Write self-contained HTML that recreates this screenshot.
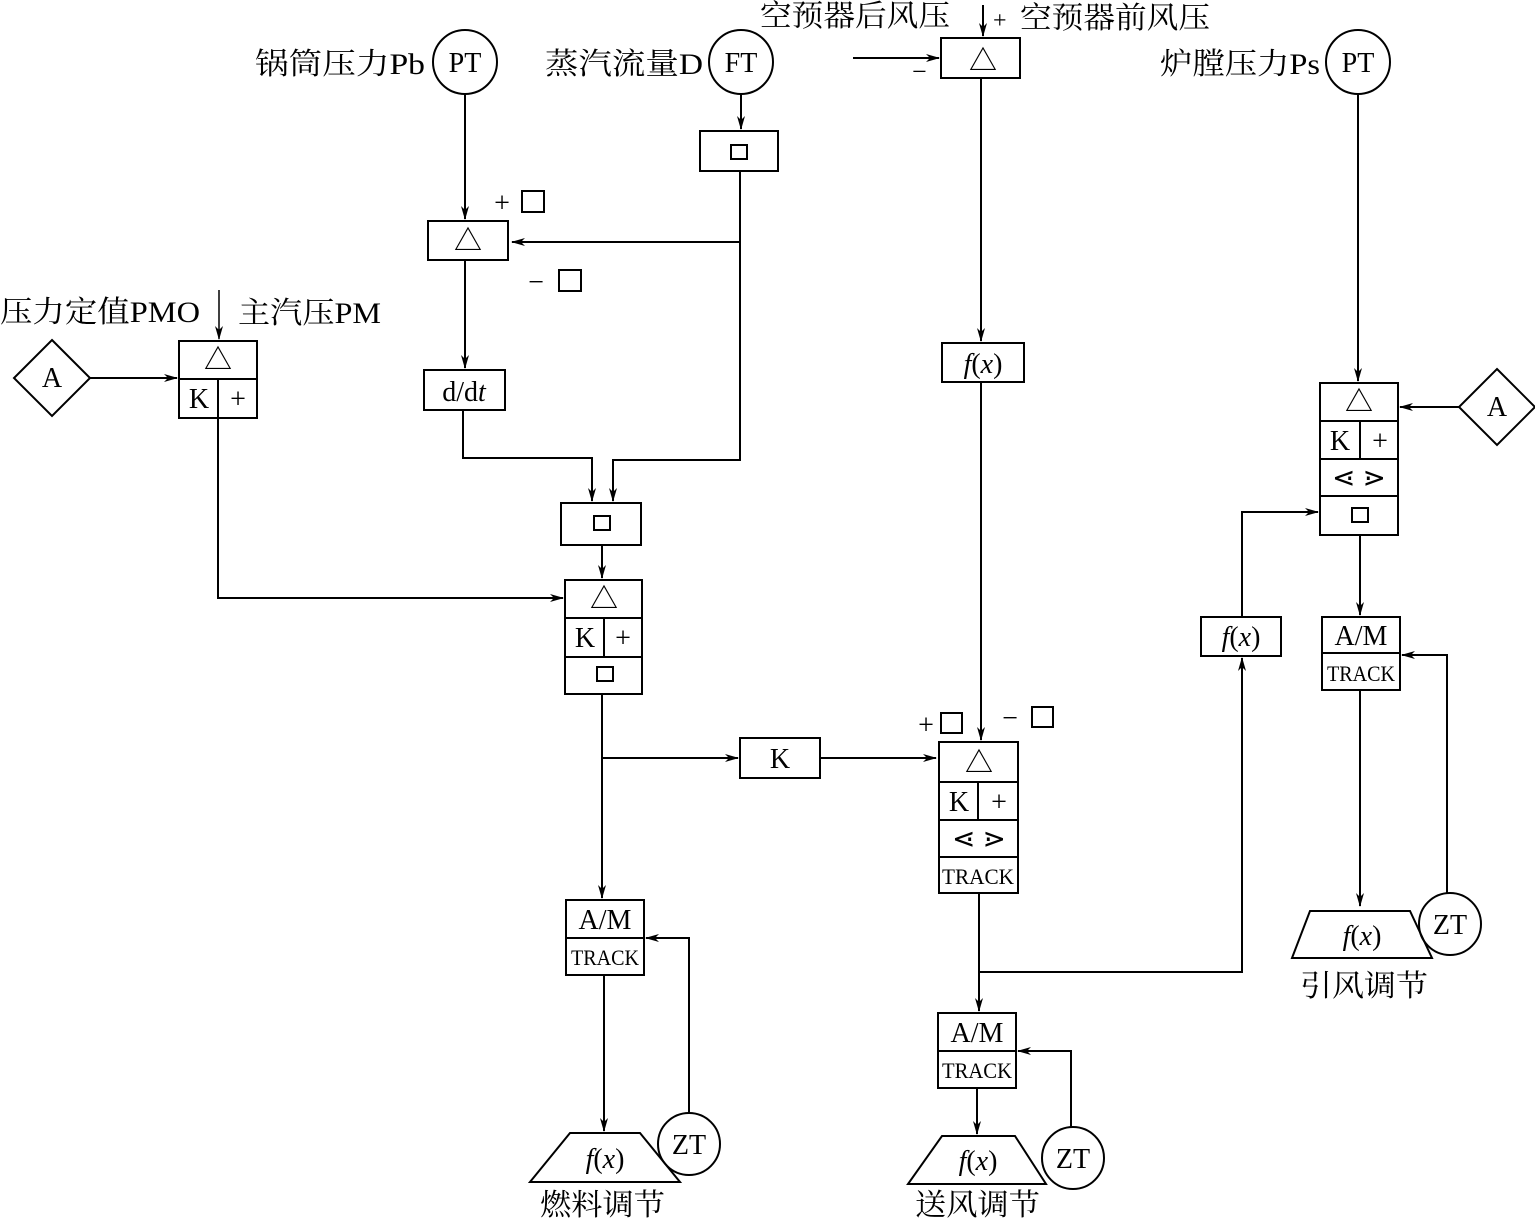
<!DOCTYPE html>
<html><head><meta charset="utf-8"><style>
html,body{margin:0;padding:0;background:#fff}
svg text{font-family:"Liberation Serif","Noto Serif CJK SC",serif;fill:#000}
</style></head><body>
<svg width="1535" height="1223" viewBox="0 0 1535 1223" xmlns="http://www.w3.org/2000/svg">
<defs><marker id="a" markerWidth="14" markerHeight="8" refX="13" refY="4" orient="auto" markerUnits="userSpaceOnUse"><path d="M0,0 L14,4 L0,8 L4,4 Z" fill="#000"/></marker></defs>
<g stroke="#000" stroke-width="2" fill="none">
<line x1="983" y1="5" x2="983" y2="36" marker-end="url(#a)"/>
<rect x="941" y="38" width="79" height="40"/>
<line x1="853" y1="58" x2="939" y2="58" marker-end="url(#a)"/>
<line x1="981" y1="78" x2="981" y2="341" marker-end="url(#a)"/>
<rect x="942" y="343" width="82" height="39"/>
<line x1="981" y1="382" x2="981" y2="740" marker-end="url(#a)"/>
<circle cx="465" cy="62" r="32"/>
<circle cx="741" cy="62" r="32"/>
<line x1="741" y1="94" x2="741" y2="129" marker-end="url(#a)"/>
<rect x="700" y="131" width="78" height="40"/>
<rect x="731" y="145" width="16" height="14"/>
<polyline points="740,171 740,460 613,460 613,501" marker-end="url(#a)"/>
<line x1="740" y1="242" x2="512" y2="242" marker-end="url(#a)"/>
<line x1="465" y1="94" x2="465" y2="219" marker-end="url(#a)"/>
<rect x="428" y="221" width="80" height="39"/>
<rect x="522" y="191" width="22" height="21"/>
<rect x="559" y="270" width="22" height="21"/>
<line x1="465" y1="260" x2="465" y2="368" marker-end="url(#a)"/>
<rect x="424" y="370" width="81" height="40"/>
<polyline points="463,410 463,458 592,458 592,501" marker-end="url(#a)"/>
<rect x="561" y="503" width="80" height="42"/>
<rect x="594" y="516" width="16" height="14"/>
<line x1="602" y1="545" x2="602" y2="578" marker-end="url(#a)"/>
<rect x="565" y="580" width="77" height="114"/>
<line x1="565" y1="618" x2="642" y2="618"/><line x1="565" y1="657" x2="642" y2="657"/><line x1="604" y1="618" x2="604" y2="657"/>
<rect x="597" y="667" width="16" height="14"/>
<line x1="219" y1="290" x2="219" y2="339" stroke-width="1.5" marker-end="url(#a)"/>
<polygon points="52,340 90,378 52,416 14,378"/>
<line x1="90" y1="378" x2="177" y2="378" marker-end="url(#a)"/>
<rect x="179" y="341" width="78" height="77"/>
<line x1="179" y1="379" x2="257" y2="379"/><line x1="218" y1="379" x2="218" y2="418"/>
<polyline points="218,418 218,598 563,598" marker-end="url(#a)"/>
<line x1="602" y1="694" x2="602" y2="898" marker-end="url(#a)"/>
<line x1="602" y1="758" x2="738" y2="758" marker-end="url(#a)"/>
<rect x="740" y="738" width="80" height="40"/>
<line x1="820" y1="758" x2="936" y2="758" marker-end="url(#a)"/>
<rect x="566" y="900" width="78" height="75"/><line x1="566" y1="938" x2="644" y2="938"/>
<line x1="604" y1="975" x2="604" y2="1131" marker-end="url(#a)"/>
<polygon points="570,1133 640,1133 680,1182 530,1182"/>
<circle cx="689" cy="1144" r="31"/>
<polyline points="689,1113 689,938 646,938" marker-end="url(#a)"/>
<rect x="939" y="742" width="79" height="151"/>
<line x1="939" y1="782" x2="1018" y2="782"/><line x1="939" y1="820" x2="1018" y2="820"/><line x1="939" y1="857" x2="1018" y2="857"/><line x1="978" y1="782" x2="978" y2="820"/>
<rect x="941" y="713" width="21" height="20"/>
<rect x="1032" y="707" width="21" height="20"/>
<line x1="979" y1="893" x2="979" y2="1011" marker-end="url(#a)"/>
<polyline points="979,972 1242,972 1242,658" marker-end="url(#a)"/>
<rect x="1201" y="617" width="80" height="39"/>
<polyline points="1242,617 1242,512 1318,512" marker-end="url(#a)"/>
<rect x="938" y="1013" width="78" height="75"/><line x1="938" y1="1051" x2="1016" y2="1051"/>
<line x1="977" y1="1088" x2="977" y2="1134" marker-end="url(#a)"/>
<polygon points="942,1136 1015,1136 1046,1184 908,1184"/>
<circle cx="1073" cy="1158" r="31"/>
<polyline points="1071,1127 1071,1051 1018,1051" marker-end="url(#a)"/>
<circle cx="1358" cy="62" r="32"/>
<line x1="1358" y1="94" x2="1358" y2="381" marker-end="url(#a)"/>
<rect x="1320" y="383" width="78" height="152"/>
<line x1="1320" y1="421" x2="1398" y2="421"/><line x1="1320" y1="459" x2="1398" y2="459"/><line x1="1320" y1="496" x2="1398" y2="496"/><line x1="1360" y1="421" x2="1360" y2="459"/>
<rect x="1352" y="508" width="16" height="14"/>
<polygon points="1497,369 1535,407 1497,445 1459,407"/>
<line x1="1459" y1="407" x2="1400" y2="407" marker-end="url(#a)"/>
<line x1="1360" y1="535" x2="1360" y2="615" marker-end="url(#a)"/>
<rect x="1322" y="617" width="78" height="73"/><line x1="1322" y1="653" x2="1400" y2="653"/>
<line x1="1360" y1="690" x2="1360" y2="906" marker-end="url(#a)"/>
<polygon points="1310,911 1410,911 1432,958 1292,958"/>
<circle cx="1450" cy="924" r="31"/>
<polyline points="1447,893 1447,655 1402,655" marker-end="url(#a)"/>
</g>
<g font-size="30">
<text x="760" y="26" textLength="190" lengthAdjust="spacingAndGlyphs">空预器后风压</text>
<text x="993" y="28" font-size="24">+</text>
<text x="1020" y="28" textLength="190" lengthAdjust="spacingAndGlyphs">空预器前风压</text>
<text x="912" y="80" font-size="26">−</text>
<text x="255" y="74" textLength="170" lengthAdjust="spacingAndGlyphs">锅筒压力Pb</text>
<text x="545" y="74" textLength="158" lengthAdjust="spacingAndGlyphs">蒸汽流量D</text>
<text x="1160" y="74" textLength="160" lengthAdjust="spacingAndGlyphs">炉膛压力Ps</text>
<text x="0" y="322" textLength="200" lengthAdjust="spacingAndGlyphs">压力定值PMO</text>
<text x="238" y="323" textLength="143" lengthAdjust="spacingAndGlyphs">主汽压PM</text>
<text x="540" y="1215" textLength="125" lengthAdjust="spacingAndGlyphs">燃料调节</text>
<text x="915" y="1215" textLength="125" lengthAdjust="spacingAndGlyphs">送风调节</text>
<text x="1300" y="996" textLength="128" lengthAdjust="spacingAndGlyphs">引风调节</text>
<g font-size="28" text-anchor="middle">
<text x="465" y="72">PT</text><text x="741" y="72">FT</text><text x="1358" y="72">PT</text>
<text x="468" y="250">△</text>
<text x="502" y="212">+</text><text x="536" y="291">−</text>
<text x="464" y="401">d/d<tspan font-style="italic">t</tspan></text>
<text x="983" y="70">△</text>
<text x="983" y="373"><tspan font-style="italic">f</tspan>(<tspan font-style="italic">x</tspan>)</text>
<text x="52" y="387">A</text><text x="1497" y="416">A</text>
<text x="218" y="369">△</text><text x="199" y="408">K</text><text x="238" y="408">+</text>
<text x="604" y="608">△</text><text x="585" y="647">K</text><text x="623" y="647">+</text>
<text x="780" y="768">K</text>
<text x="926" y="734">+</text><text x="1010" y="727">−</text>
<text x="979" y="772">△</text><text x="959" y="811">K</text><text x="999" y="811">+</text>
<text x="979" y="848">⋖ ⋗</text>
<text x="1359" y="411">△</text><text x="1340" y="450">K</text><text x="1380" y="450">+</text>
<text x="1359" y="487">⋖ ⋗</text>
<text x="1241" y="646"><tspan font-style="italic">f</tspan>(<tspan font-style="italic">x</tspan>)</text>
<text x="605" y="929">A/M</text><text x="977" y="1042">A/M</text><text x="1361" y="645">A/M</text>
<text x="605" y="1168"><tspan font-style="italic">f</tspan>(<tspan font-style="italic">x</tspan>)</text>
<text x="978" y="1170"><tspan font-style="italic">f</tspan>(<tspan font-style="italic">x</tspan>)</text>
<text x="1362" y="945"><tspan font-style="italic">f</tspan>(<tspan font-style="italic">x</tspan>)</text>
<text x="689" y="1154">ZT</text><text x="1073" y="1168">ZT</text><text x="1450" y="934">ZT</text>
</g>
<g font-size="22" text-anchor="middle">
<text x="605" y="965" textLength="68" lengthAdjust="spacingAndGlyphs">TRACK</text>
<text x="978" y="884" textLength="72" lengthAdjust="spacingAndGlyphs">TRACK</text>
<text x="977" y="1078" textLength="70" lengthAdjust="spacingAndGlyphs">TRACK</text>
<text x="1361" y="681" textLength="68" lengthAdjust="spacingAndGlyphs">TRACK</text>
</g>
</g>
</svg>
</body></html>
